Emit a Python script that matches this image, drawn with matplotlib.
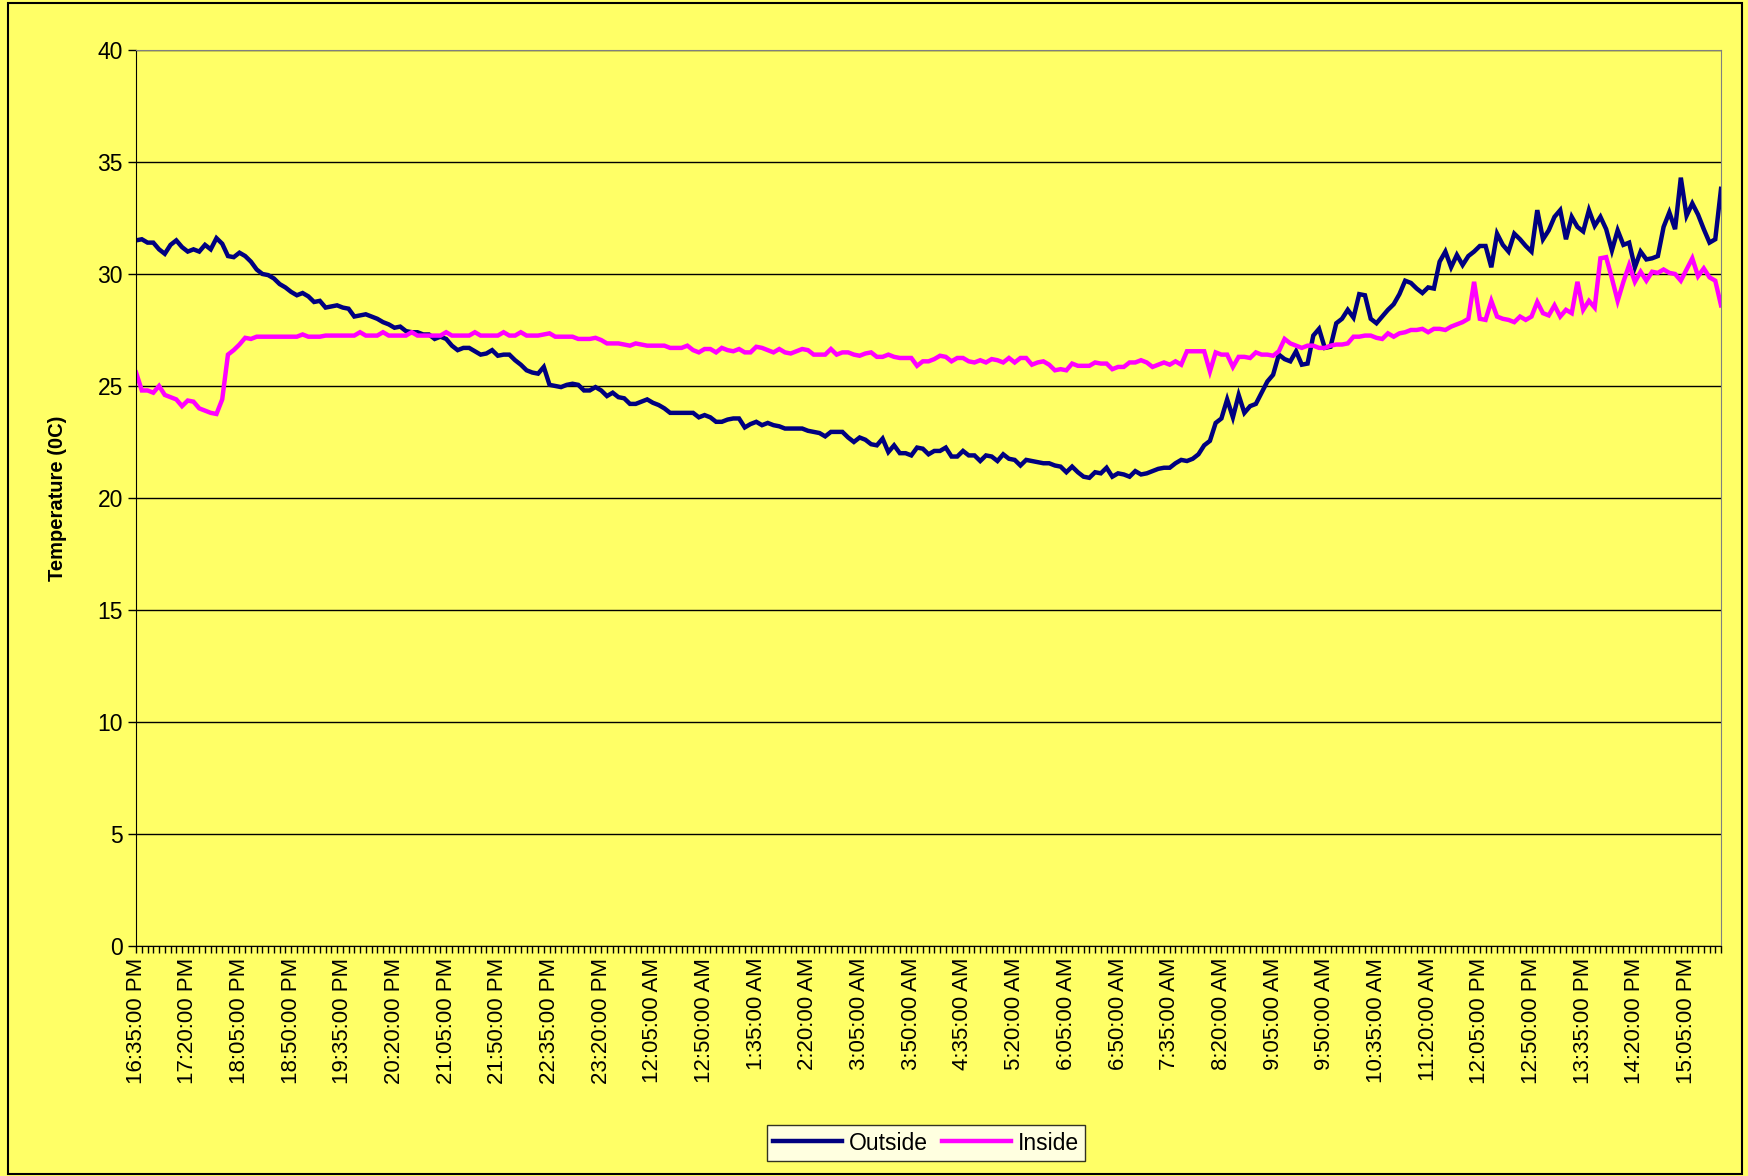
import numpy as np
import matplotlib
matplotlib.use("Agg")
import matplotlib.pyplot as plt
from matplotlib.patches import Rectangle

# readings every 5 minutes, 16:35 PM -> ~15:35 PM next day
outside = [31.5, 31.55, 31.4, 31.4, 31.1, 30.9, 31.3, 31.5, 31.2, 31.0,
           31.1, 31.0, 31.3, 31.1, 31.6, 31.35, 30.8, 30.75, 30.95, 30.8,
           30.55, 30.2, 30.0, 29.95, 29.8, 29.55, 29.4, 29.2, 29.05, 29.15,
           29.0, 28.75, 28.8, 28.5, 28.55, 28.6, 28.5, 28.45, 28.1, 28.15,
           28.2, 28.1, 28.0, 27.85, 27.75, 27.6, 27.65, 27.45, 27.4, 27.4,
           27.3, 27.3, 27.1, 27.2, 27.1, 26.8, 26.6, 26.7, 26.7, 26.55,
           26.4, 26.45, 26.6, 26.35, 26.4, 26.4, 26.15, 25.95, 25.7, 25.6,
           25.55, 25.85, 25.05, 25.0, 24.95, 25.05, 25.1, 25.05, 24.8, 24.8,
           24.95, 24.8, 24.55, 24.7, 24.5, 24.45, 24.2, 24.2, 24.3, 24.4,
           24.25, 24.15, 24.0, 23.8, 23.8, 23.8, 23.8, 23.8, 23.6, 23.7,
           23.6, 23.4, 23.4, 23.5, 23.55, 23.55, 23.15, 23.3, 23.4, 23.25,
           23.35, 23.25, 23.2, 23.1, 23.1, 23.1, 23.1, 23.0, 22.95, 22.9,
           22.75, 22.95, 22.95, 22.95, 22.7, 22.5, 22.7, 22.6, 22.4, 22.35,
           22.65, 22.05, 22.35, 22.0, 22.0, 21.9, 22.25, 22.2, 21.95, 22.1,
           22.1, 22.25, 21.85, 21.85, 22.1, 21.9, 21.9, 21.65, 21.9, 21.85,
           21.65, 21.95, 21.75, 21.7, 21.45, 21.7, 21.65, 21.6, 21.55, 21.55,
           21.45, 21.4, 21.15, 21.4, 21.15, 20.95, 20.9, 21.15, 21.1, 21.35,
           20.95, 21.1, 21.05, 20.95, 21.2, 21.05, 21.1, 21.2, 21.3, 21.35,
           21.35, 21.55, 21.7, 21.65, 21.75, 21.95, 22.35, 22.55, 23.35, 23.55,
           24.4, 23.6, 24.6, 23.8, 24.1, 24.2, 24.7, 25.2, 25.5, 26.4,
           26.2, 26.1, 26.55, 25.95, 26.0, 27.25, 27.55, 26.7, 26.75, 27.8,
           28.0, 28.4, 28.05, 29.1, 29.05, 28.0, 27.8, 28.1, 28.4, 28.65,
           29.1, 29.7, 29.6, 29.35, 29.15, 29.4, 29.35, 30.55, 31.0, 30.3,
           30.85, 30.4, 30.8, 31.0, 31.25, 31.25, 30.3, 31.8, 31.3, 31.0,
           31.8, 31.55, 31.25, 31.0, 32.85, 31.55, 31.95, 32.55, 32.85, 31.55,
           32.55, 32.1, 31.9, 32.85, 32.15, 32.55, 32.0, 31.05, 31.95, 31.3,
           31.4, 30.3, 31.0, 30.65, 30.7, 30.8, 32.1, 32.75, 32.0, 34.3,
           32.6, 33.15, 32.65, 32.0, 31.4, 31.55, 33.8]

inside = [25.6, 24.8, 24.8, 24.7, 25.0, 24.6, 24.5, 24.4, 24.1, 24.35,
          24.3, 24.0, 23.9, 23.8, 23.75, 24.4, 26.4, 26.6, 26.85, 27.15,
          27.1, 27.2, 27.2, 27.2, 27.2, 27.2, 27.2, 27.2, 27.2, 27.3,
          27.2, 27.2, 27.2, 27.25, 27.25, 27.25, 27.25, 27.25, 27.25, 27.4,
          27.25, 27.25, 27.25, 27.4, 27.25, 27.25, 27.25, 27.25, 27.4, 27.25,
          27.25, 27.25, 27.25, 27.25, 27.4, 27.25, 27.25, 27.25, 27.25, 27.4,
          27.25, 27.25, 27.25, 27.25, 27.4, 27.25, 27.25, 27.4, 27.25, 27.25,
          27.25, 27.3, 27.35, 27.2, 27.2, 27.2, 27.2, 27.1, 27.1, 27.1,
          27.15, 27.05, 26.9, 26.9, 26.9, 26.85, 26.8, 26.9, 26.85, 26.8,
          26.8, 26.8, 26.8, 26.7, 26.7, 26.7, 26.8, 26.6, 26.5, 26.65,
          26.65, 26.5, 26.7, 26.6, 26.55, 26.65, 26.5, 26.5, 26.75, 26.7,
          26.6, 26.5, 26.65, 26.5, 26.45, 26.55, 26.65, 26.6, 26.4, 26.4,
          26.4, 26.65, 26.4, 26.5, 26.5, 26.4, 26.35, 26.45, 26.5, 26.3,
          26.3, 26.4, 26.3, 26.25, 26.25, 26.25, 25.9, 26.1, 26.1, 26.2,
          26.35, 26.3, 26.1, 26.25, 26.25, 26.1, 26.05, 26.15, 26.05, 26.2,
          26.15, 26.05, 26.25, 26.05, 26.25, 26.25, 25.95, 26.05, 26.1, 25.95,
          25.7, 25.75, 25.7, 26.0, 25.9, 25.9, 25.9, 26.05, 26.0, 26.0,
          25.75, 25.85, 25.85, 26.05, 26.05, 26.15, 26.05, 25.85, 25.95, 26.05,
          25.95, 26.1, 25.95, 26.55, 26.55, 26.55, 26.55, 25.65, 26.5, 26.4,
          26.4, 25.85, 26.3, 26.3, 26.25, 26.5, 26.4, 26.4, 26.35, 26.55,
          27.1, 26.9, 26.8, 26.7, 26.8, 26.8, 26.7, 26.7, 26.8, 26.85,
          26.85, 26.9, 27.2, 27.2, 27.25, 27.25, 27.15, 27.1, 27.35, 27.2,
          27.35, 27.4, 27.5, 27.5, 27.55, 27.4, 27.55, 27.55, 27.5, 27.65,
          27.75, 27.85, 28.0, 29.65, 28.0, 27.95, 28.8, 28.1, 28.0, 27.95,
          27.85, 28.1, 27.95, 28.1, 28.75, 28.25, 28.15, 28.6, 28.1, 28.4,
          28.25, 29.65, 28.4, 28.8, 28.5, 30.7, 30.75, 29.8, 28.8, 29.65,
          30.4, 29.65, 30.1, 29.7, 30.1, 30.05, 30.2, 30.05, 30.0, 29.7,
          30.2, 30.7, 29.9, 30.25, 29.85, 29.7, 28.6]

tick_labels = ["16:35:00 PM", "17:20:00 PM", "18:05:00 PM", "18:50:00 PM",
               "19:35:00 PM", "20:20:00 PM", "21:05:00 PM", "21:50:00 PM",
               "22:35:00 PM", "23:20:00 PM", "12:05:00 AM", "12:50:00 AM",
               "1:35:00 AM", "2:20:00 AM", "3:05:00 AM", "3:50:00 AM",
               "4:35:00 AM", "5:20:00 AM", "6:05:00 AM", "6:50:00 AM",
               "7:35:00 AM", "8:20:00 AM", "9:05:00 AM", "9:50:00 AM",
               "10:35:00 AM", "11:20:00 AM", "12:05:00 PM", "12:50:00 PM",
               "13:35:00 PM", "14:20:00 PM", "15:05:00 PM"]

plt.rcParams['font.family'] = ['Liberation Sans', 'DejaVu Sans']
bg = '#FFFF66'

fig = plt.figure(figsize=(17.49, 11.76), dpi=100, facecolor=bg)
fig.patches.append(Rectangle((0.0046, 0.0017), 0.9914, 0.9957, transform=fig.transFigure,
                             fill=False, edgecolor='black', linewidth=1.5))
ax = fig.add_axes([0.0778, 0.1956, 0.9062, 0.7619])
ax.set_facecolor(bg)

x = np.arange(len(outside))
ax.plot(x, outside, color='#000080', linewidth=3.2, label='Outside', solid_joinstyle='miter')
ax.plot(x, inside, color='#FF00FF', linewidth=3.2, label='Inside', solid_joinstyle='miter')

ax.set_xlim(0, len(outside) - 1)
ax.set_ylim(0, 40)
ax.set_yticks(np.arange(0, 41, 5))
ax.yaxis.grid(True, color='black', linewidth=1)
ax.set_axisbelow(True)

ax.set_xticks(np.arange(0, 9 * len(tick_labels), 9))
ax.set_xticklabels(tick_labels, rotation=90, fontsize=16)
ax.set_xticks(x, minor=True)
ax.tick_params(axis='x', which='both', length=5, width=1, direction='out')
ax.tick_params(axis='y', length=6, width=1, labelsize=16.5)

for s in ['top', 'right']:
    ax.spines[s].set_color('#808080')
for s in ['left', 'bottom']:
    ax.spines[s].set_color('black')

ax.set_ylabel('Temperature (0C)', fontweight='bold', fontsize=14.5, labelpad=22)

ax.legend(loc='center', bbox_to_anchor=(926 / 1749, 1 - 1143 / 1176), bbox_transform=fig.transFigure,
          ncol=2, frameon=True, fancybox=False, edgecolor='black', fontsize=16.5,
          handlelength=3.0, columnspacing=0.6, handletextpad=0.3, borderpad=0.3)

fig.savefig('out.png', dpi=100, facecolor=bg)
